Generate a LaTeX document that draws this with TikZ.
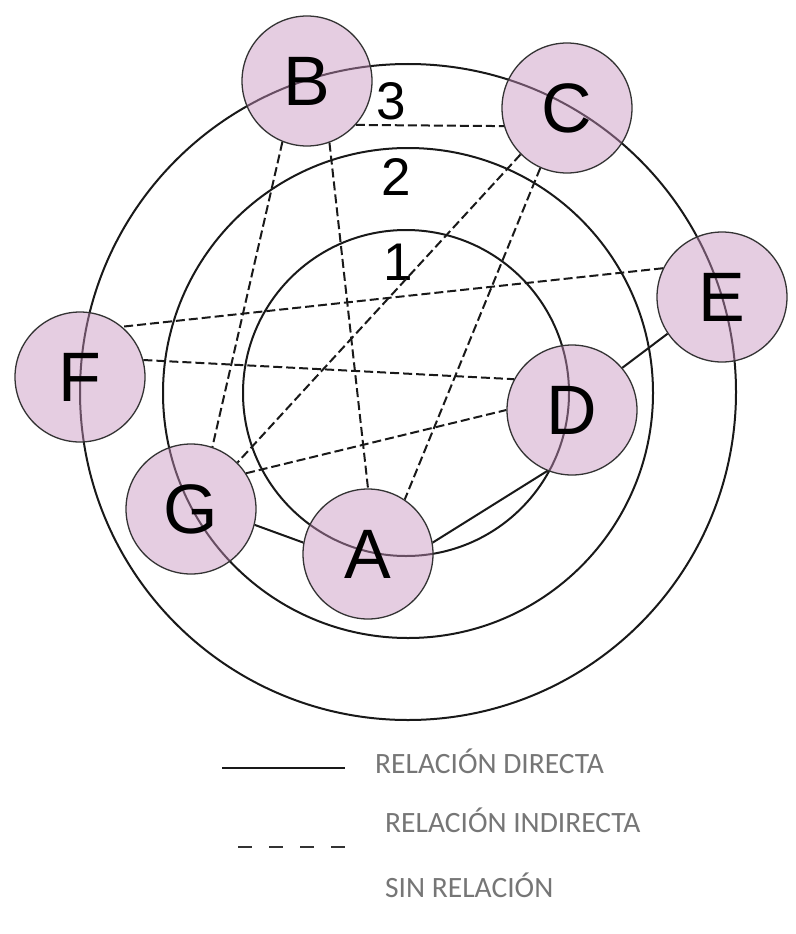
\documentclass[tikz,border=0pt]{standalone}
\usepackage{fontspec}
\setmainfont{Liberation Sans}
\newfontfamily\legendfont{Carlito}
\definecolor{nodepink}{RGB}{198,144,189}
\definecolor{legendgray}{RGB}{118,118,118}
\begin{document}
\begin{tikzpicture}[x=1pt,y=-1pt,
  actor/.style={circle, minimum size=130pt, inner sep=0pt, fill=nodepink, fill opacity=0.45, text opacity=1, draw=black!80, draw opacity=1, line width=1.3pt, font=\fontsize{70}{70}\selectfont},
  ring/.style={draw=black!90, line width=2pt},
  direct/.style={draw=black!90, line width=2pt},
  indirect/.style={draw=black!90, line width=2pt, dash pattern=on 9pt off 4pt},
  ringlabel/.style={font=\fontsize{53}{53}\selectfont, inner sep=0pt},
  legendtext/.style={font=\legendfont\fontsize{29.5}{29.5}\selectfont, text=legendgray, anchor=base west, inner sep=0pt}
]
\useasboundingbox (0,0) rectangle (795,934);

% concentric rings
\draw[ring] (408,392) circle[radius=328pt];
\draw[ring] (408,393) circle[radius=245pt];
\draw[ring] (406,393) circle[radius=163pt];

% actors
\node[actor] (B) at (307,81) {B};
\node[actor] (C) at (567,108) {C};
\node[actor] (E) at (722,297) {E};
\node[actor] (F) at (80,377) {F};
\node[actor] (D) at (572,410) {D};
\node[actor] (G) at (191,509) {G};
\node[actor] (A) at (368,554) {A};

% ring labels
\node[ringlabel] (l3) at (391,101) {3};
\node[ringlabel] (l2) at (396,177) {2};
\node[ringlabel] (l1) at (398,262) {1};

% indirect relations
\draw[indirect] (B.-42) -- (C.196);
\draw[indirect] (B.-112) -- (G.71);
\draw[indirect] (B.-70) -- (A.90);
\draw[indirect] (C.-135) -- (G.45);
\draw[indirect] (C.-114) -- (A.56);
\draw[indirect] (E.154) -- (F.50);
\draw[indirect] (F.15) -- (D.152);
\draw[indirect] (G.33) -- (D.180);

% direct relations
\draw[direct] (G.-14) -- (A.170);
\draw[direct] (A.10) -- (D.-112);
\draw[direct] (D.40) -- (E.-146);

% legend
\coordinate (s1) at (222,768);
\coordinate (s2) at (345,768);
\coordinate (d1) at (238,847);
\coordinate (d2) at (345,847);
\draw[draw=black!90, line width=2pt] (s1) -- (s2);
\draw[draw=black!80, line width=2pt, dash pattern=on 14pt off 17pt] (d1) -- (d2);
\node[legendtext] (t1) at (375,773) {RELACIÓN DIRECTA};
\node[legendtext] (t2) at (385,832) {RELACIÓN INDIRECTA};
\node[legendtext] (t3) at (385,897) {SIN RELACIÓN};
\end{tikzpicture}
\end{document}
